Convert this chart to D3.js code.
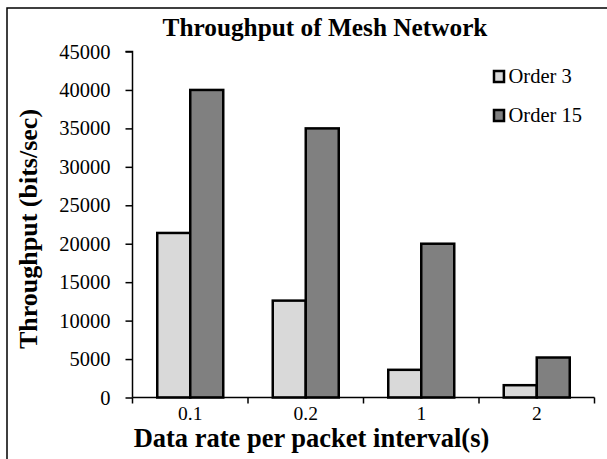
<!DOCTYPE html>
<html><head><meta charset="utf-8">
<script src="https://cdn.jsdelivr.net/npm/d3@7"></script>
<style>body{margin:0;background:#fff}svg{display:block}</style>
</head><body>
<script>
const categories = ["0.1", "0.2", "1", "2"];
const seriesNames = ["Order 3", "Order 15"];
const order3 = [21400, 12600, 3600, 1600];
const order15 = [40000, 35000, 20000, 5200];
const yTicks = [0, 5000, 10000, 15000, 20000, 25000, 30000, 35000, 40000, 45000];
const colors = ["#d9d9d9", "#808080"];

const W = 607, H = 459;
const svg = d3.select("body").append("svg").attr("width", W).attr("height", H);
const font = "'Liberation Serif','Times New Roman',serif";

svg.append("rect").attr("x", 7).attr("y", 8).attr("width", 640).attr("height", 520)
  .attr("fill", "#fff").attr("stroke", "#000").attr("stroke-width", 1.5);

const x = d3.scaleBand().domain(categories).range([132.5, 594.5]).padding(0);
const xs = d3.scaleBand().domain(seriesNames).range([0, 66]);
const y = d3.scaleLinear().domain([0, 45000]).range([397.5, 51.5]);

const series = [order3, order15];
const g = svg.append("g");
series.forEach((vals, si) => {
  g.selectAll(null).data(categories).enter().append("rect")
    .attr("x", (c) => x(c) + x.bandwidth() / 2 - 33 + xs(seriesNames[si]))
    .attr("y", (c, i) => y(vals[i]))
    .attr("width", xs.bandwidth())
    .attr("height", (c, i) => y(0) - y(vals[i]))
    .attr("fill", colors[si]).attr("stroke", "#000").attr("stroke-width", 2.5);
});

const yAxis = svg.append("g").attr("transform", "translate(132.5,0)")
  .call(d3.axisLeft(y).tickValues(yTicks).tickFormat(d3.format("d")).tickSize(7).tickPadding(15));
yAxis.selectAll("text").attr("font-family", font).attr("font-size", 20.5).attr("fill", "#000");
yAxis.selectAll("line").attr("stroke", "#000").attr("stroke-width", 1.5);
yAxis.select(".domain").attr("stroke", "#000").attr("stroke-width", 1.5).attr("d", "M-7,51.5H0V397.5");

const xAxis = svg.append("g").attr("transform", "translate(0,397.5)")
  .call(d3.axisBottom(x).tickSize(0).tickPadding(9));
xAxis.selectAll("text").attr("font-family", font).attr("font-size", 19.5).attr("fill", "#000");
xAxis.select(".domain").attr("stroke", "#000").attr("stroke-width", 1.5).attr("d", "M132.5,0H594.5");
const bounds = categories.map(c => x(c)).concat([x.range()[1]]);
xAxis.selectAll(".bt").data(bounds).enter().append("line")
  .attr("x1", d => d).attr("x2", d => d).attr("y1", 0).attr("y2", 6)
  .attr("stroke", "#000").attr("stroke-width", 1.5);

svg.append("text").attr("x", 325).attr("y", 36.3).attr("text-anchor", "middle")
  .attr("font-family", font).attr("font-weight", "bold").attr("font-size", 25.3)
  .text("Throughput of Mesh Network");

svg.append("text").attr("transform", "translate(36.5,229) rotate(-90)").attr("text-anchor", "middle")
  .attr("font-family", font).attr("font-weight", "bold").attr("font-size", 26)
  .text("Throughput (bits/sec)");

svg.append("text").attr("x", 311.5).attr("y", 447).attr("text-anchor", "middle")
  .attr("font-family", font).attr("font-weight", "bold").attr("font-size", 26.5)
  .text("Data rate per packet interval(s)");

const leg = svg.append("g");
seriesNames.forEach((n, i) => {
  const yy = 71 + i * 39;
  leg.append("rect").attr("x", 494).attr("y", yy).attr("width", 10).attr("height", 11)
    .attr("fill", colors[i]).attr("stroke", "#000").attr("stroke-width", 2.5);
  leg.append("text").attr("x", 508.5).attr("y", yy + 12).attr("font-family", font)
    .attr("font-size", 20.5).text(n);
});
</script>
</body></html>
